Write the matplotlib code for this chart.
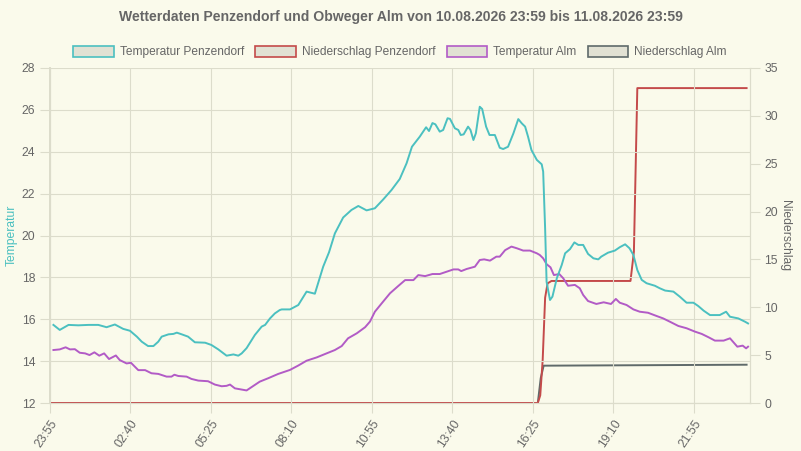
import matplotlib
matplotlib.use("Agg")
import matplotlib.pyplot as plt
from matplotlib.patches import Patch

plt.rcParams['font.family'] = ['Liberation Sans', 'DejaVu Sans']

# minutes after 23:55 on 10.08.2026
pen_temp_t = [7, 20, 38, 58, 79, 99, 116, 133, 150, 164, 178, 188, 201, 212, 222, 229, 243, 253, 260, 270,
              283, 297, 318, 331, 345, 362, 376, 386, 393, 403, 420, 434, 441, 451, 461, 471, 475, 492, 509,
              526, 543, 560, 572, 584, 601, 618, 632, 649, 666, 683, 700, 717, 731, 742, 758, 771, 777, 784,
              790, 799, 806, 815, 820, 830, 837, 842, 848, 857, 862, 868, 873, 881, 886, 894, 901, 912, 922,
              929, 939, 950, 960, 967, 974, 980, 987, 998, 1008, 1011, 1015, 1018, 1025, 1030, 1039, 1049,
              1056, 1066, 1075, 1083, 1093, 1103, 1114, 1124, 1130, 1144, 1158, 1168, 1179, 1188, 1196, 1204,
              1213, 1223, 1240, 1250, 1261, 1278, 1291, 1305, 1319, 1329, 1340, 1353, 1373, 1386, 1394, 1411,
              1425, 1431]
pen_temp = [15.73, 15.49, 15.73, 15.71, 15.73, 15.73, 15.62, 15.75, 15.54, 15.45, 15.17, 14.93, 14.72, 14.72,
            14.93, 15.17, 15.28, 15.30, 15.36, 15.28, 15.17, 14.90, 14.88, 14.77, 14.56, 14.26, 14.32, 14.26,
            14.37, 14.62, 15.25, 15.65, 15.73, 16.04, 16.28, 16.44, 16.47, 16.47, 16.68, 17.32, 17.22, 18.51,
            19.20, 20.10, 20.86, 21.22, 21.41, 21.20, 21.30, 21.72, 22.17, 22.70, 23.45, 24.24, 24.72, 25.17,
            24.99, 25.37, 25.31, 24.96, 25.04, 25.60, 25.57, 25.12, 25.04, 24.80, 24.83, 25.20, 25.04, 24.56,
            24.88, 26.15, 26.04, 25.20, 24.80, 24.80, 24.19, 24.13, 24.24, 24.88, 25.56, 25.36, 25.20, 24.72,
            24.08, 23.61, 23.40, 23.05, 20.34, 17.79, 16.92, 17.08, 17.96, 18.59, 19.15, 19.35, 19.67, 19.55,
            19.55, 19.12, 18.91, 18.86, 18.99, 19.18, 19.28, 19.44, 19.58, 19.39, 19.07, 18.35, 17.88, 17.72,
            17.60, 17.48, 17.37, 17.32, 17.08, 16.79, 16.79, 16.63, 16.41, 16.20, 16.20, 16.36, 16.12, 16.04,
            15.88, 15.80]

alm_temp_t = [7, 20, 32, 41, 51, 61, 72, 81, 91, 101, 111, 121, 135, 143, 157, 166, 181, 195, 208, 222, 239,
              249, 255, 263, 280, 290, 304, 324, 338, 352, 362, 369, 379, 403, 430, 447, 468, 492, 509, 526,
              547, 567, 584, 598, 611, 629, 646, 656, 666, 680, 697, 714, 728, 745, 755, 769, 784, 799, 813,
              827, 837, 843, 854, 871, 881, 890, 902, 915, 922, 933, 946, 957, 970, 984, 998, 1004, 1011, 1018,
              1026, 1033, 1044, 1052, 1062, 1076, 1086, 1093, 1103, 1120, 1135, 1150, 1160, 1168, 1182, 1196,
              1209, 1226, 1243, 1257, 1271, 1288, 1305, 1322, 1336, 1350, 1363, 1381, 1394, 1409, 1420, 1427,
              1431]
alm_temp = [14.53, 14.56, 14.66, 14.56, 14.57, 14.40, 14.37, 14.29, 14.42, 14.26, 14.37, 14.10, 14.27, 14.05,
            13.89, 13.92, 13.57, 13.57, 13.42, 13.39, 13.26, 13.26, 13.35, 13.29, 13.26, 13.15, 13.07, 13.04,
            12.88, 12.80, 12.82, 12.88, 12.70, 12.60, 13.02, 13.18, 13.39, 13.58, 13.79, 14.02, 14.18, 14.37,
            14.53, 14.72, 15.09, 15.33, 15.62, 15.89, 16.36, 16.76, 17.24, 17.59, 17.87, 17.87, 18.11, 18.06,
            18.16, 18.16, 18.27, 18.38, 18.38, 18.30, 18.40, 18.51, 18.83, 18.86, 18.80, 18.99, 18.99, 19.30,
            19.47, 19.39, 19.28, 19.28, 19.15, 19.07, 18.91, 18.63, 18.48, 18.11, 18.16, 17.96, 17.60, 17.64,
            17.48, 17.16, 16.87, 16.73, 16.81, 16.73, 16.97, 16.79, 16.68, 16.47, 16.36, 16.31, 16.16, 16.04,
            15.88, 15.68, 15.57, 15.41, 15.30, 15.14, 14.98, 14.98, 15.09, 14.69, 14.74, 14.61, 14.69]

pen_rain_t = [0, 1000, 1005, 1010, 1015, 1020, 1028, 1190, 1197, 1204, 1428]
pen_rain = [0, 0, 0.8, 4.5, 11.0, 12.5, 12.75, 12.75, 15.8, 32.9, 32.9]

alm_rain_t = [0, 1000, 1006, 1012, 1428]
alm_rain = [0, 0, 2.6, 3.9, 4.0]

tick_pos = [0, 165, 330, 495, 660, 825, 990, 1155, 1320]
tick_labels = ['23:55', '02:40', '05:25', '08:10', '10:55', '13:40', '16:25', '19:10', '21:55']

c_pen = '#4bc0c0'
c_pen_rain = '#c44a4a'
c_alm = '#b25bc6'
c_alm_rain = '#5f6a6a'
bg = '#fafaeb'
grid_c = '#dcdccb'
txt = '#666666'

fig = plt.figure(figsize=(8.01, 4.51), dpi=100, facecolor=bg)
ax = fig.add_axes([50 / 801, 48 / 451, 700 / 801, 335 / 451])
ax.set_facecolor(bg)
ax2 = ax.twinx()

ax.plot(pen_temp_t, pen_temp, color=c_pen, lw=1.4, zorder=4)
ax.plot(alm_temp_t, alm_temp, color=c_alm, lw=1.4, zorder=3)
ax2.plot(alm_rain_t, alm_rain, color=c_alm_rain, lw=1.4, zorder=2)
ax2.plot(pen_rain_t, pen_rain, color=c_pen_rain, lw=1.4, zorder=3)

ax.set_zorder(2)
ax2.set_zorder(1)
ax.patch.set_visible(False)
ax2.patch.set_visible(True)
ax2.patch.set_facecolor(bg)

ax.set_xlim(0, 1435)
ax.set_ylim(12, 28)
ax2.set_ylim(0, 35)
ax.set_yticks(range(12, 29, 2))
ax2.set_yticks(range(0, 36, 5))
ax.set_xticks(tick_pos)
ax.set_xticklabels(tick_labels, rotation=56, ha='right', va='top', rotation_mode='anchor')

ax.grid(True, color=grid_c, lw=0.8)
for a in (ax, ax2):
    a.tick_params(colors=txt, labelsize=8.7, length=7, width=0.8, color=grid_c)
    for s in a.spines.values():
        s.set_color(grid_c)
    a.spines['top'].set_visible(False)
ax.spines['left'].set_linewidth(1.4)

ax.set_ylabel('Temperatur', color=c_pen, fontsize=8.7, labelpad=3)
ax2.set_ylabel('Niederschlag', color=txt, fontsize=8.7, rotation=270, labelpad=9)

fig.text(0.5, 1 - 17 / 451, 'Wetterdaten Penzendorf und Obweger Alm von 10.08.2026 23:59 bis 11.08.2026 23:59',
         ha='center', va='center', fontsize=10.05, fontweight='bold', color=txt)

handles = [
    Patch(facecolor='#e1e1d3', edgecolor=c_pen, lw=1.2, label='Temperatur Penzendorf'),
    Patch(facecolor='#e1e1d3', edgecolor=c_pen_rain, lw=1.2, label='Niederschlag Penzendorf'),
    Patch(facecolor='#e1e1d3', edgecolor=c_alm, lw=1.2, label='Temperatur Alm'),
    Patch(facecolor='#e1e1d3', edgecolor=c_alm_rain, lw=1.2, label='Niederschlag Alm'),
]
leg = fig.legend(handles=handles, loc='center', bbox_to_anchor=(400 / 801, 1 - 52 / 451), ncol=4,
                 frameon=False, fontsize=8.6, handlelength=3.4, handleheight=1.05, handletextpad=0.5,
                 columnspacing=0.95, borderaxespad=0)
for t in leg.get_texts():
    t.set_color(txt)

fig.savefig('out.png', dpi=100, facecolor=bg)
